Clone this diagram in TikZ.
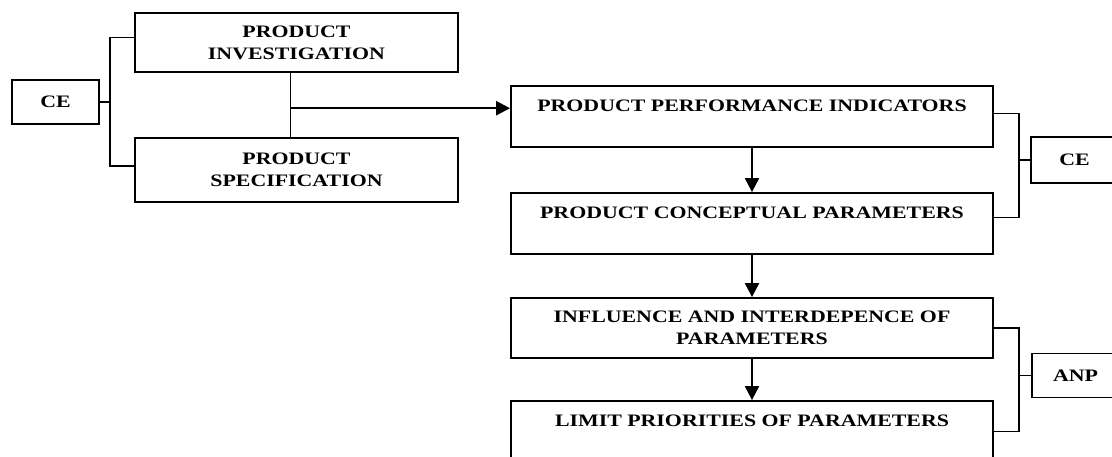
\documentclass[tikz,border=0pt]{standalone}
\usepackage{fontspec}
\setmainfont{Liberation Serif}[FakeStretch=1.25]
\usepackage{tikz}
\usetikzlibrary{arrows.meta, calc}
\tikzstyle{stage} = [rectangle, draw=black, line width=1.8pt, text centered, align=center, inner sep=0pt, font=\bfseries\fontsize{17.5}{22}\selectfont]
\tikzstyle{method} = [stage, minimum width=87pt, minimum height=44pt]
\tikzstyle{link} = [line width=1.6pt]
\tikzstyle{arrow} = [line width=2.2pt, -{Triangle[length=14pt,width=14pt]}]

\begin{document}
\begin{tikzpicture}[x=1pt, y=1pt]
    \useasboundingbox (0,0) rectangle (1112,-457);
    % left part
    \node (CEl) [method] at (55.5,-102) {CE};
    \node (Inv) [stage, minimum width=323pt, minimum height=59pt] at (296.5,-42.5) {PRODUCT\\INVESTIGATION};
    \node (Spec) [stage, minimum width=323pt, minimum height=64pt, below of = Inv, node distance=127.5pt] {PRODUCT\\SPECIFICATION};
    % main column
    \node (PPI) [stage, minimum width=482pt, minimum height=61pt] at (752,-116.5) {PRODUCT PERFORMANCE INDICATORS\\~};
    \node (PCP) [stage, minimum width=482pt, minimum height=61pt, below of = PPI, node distance=107pt] {PRODUCT CONCEPTUAL PARAMETERS\\~};
    \node (Infl) [stage, minimum width=482pt, minimum height=60pt, below of = PCP, node distance=104.5pt] {INFLUENCE AND INTERDEPENCE OF\\PARAMETERS};
    \node (Lim) [stage, minimum width=482pt, minimum height=61pt, below of = Infl, node distance=103.5pt] {LIMIT PRIORITIES OF PARAMETERS\\~};
    \node (CEr) [method, minimum height=46pt] at (1074.5,-160) {CE};
    \node (ANP) [method] at (1075.5,-375.5) {ANP};
    % brackets
    \coordinate (brL) at ([xshift=10pt]CEl.east);
    \coordinate (brCE) at ([xshift=-11pt]CEr.west);
    \coordinate (brANP) at ([xshift=-12pt]ANP.west);
    \draw [link] (CEl.east) -- (brL);
    \draw [link] ([yshift=5pt]Inv.west) -| (brL) |- ([yshift=4pt]Spec.west);
    \draw [link] (CEr.west) -- (brCE);
    \draw [link] ([yshift=3pt]PPI.east) -| (brCE) |- ([yshift=6pt]PCP.east);
    \draw [link] (ANP.west) -- (brANP);
    \draw [link] (Infl.east) -| (brANP) |- (Lim.east);
    % flow
    \draw [link] ([xshift=-6pt]Inv.south) -- ([xshift=-6pt]Spec.north);
    \coordinate (join) at ($([xshift=-6pt]Inv.south)!0.55!([xshift=-6pt]Spec.north)$);
    \draw [arrow] (join) -- (join -| PPI.west);
    \draw [arrow] (PPI) -- (PCP);
    \draw [arrow] (PCP) -- (Infl);
    \draw [arrow] (Infl) -- (Lim);
\end{tikzpicture}
\end{document}
